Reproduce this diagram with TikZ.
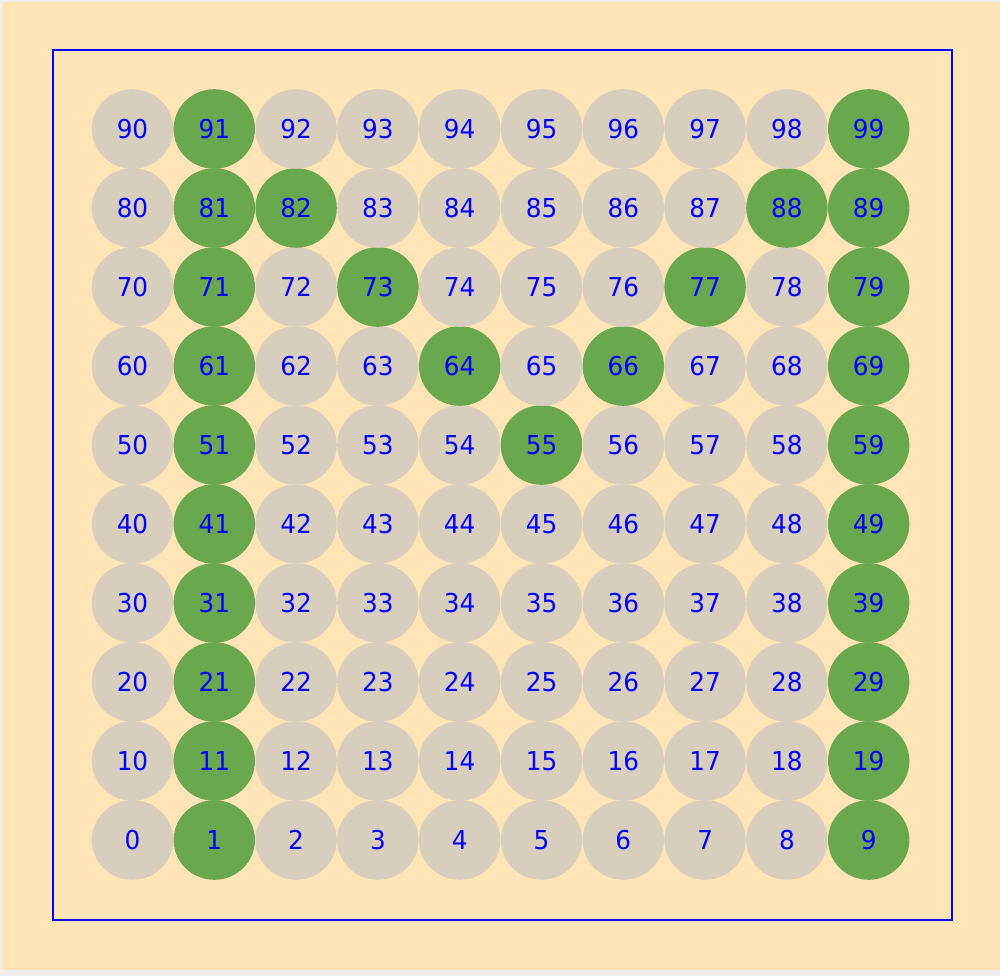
\documentclass[tikz,border=0pt]{standalone}
\usepackage{fontspec}
\newfontfamily\cellfont[FakeStretch=0.95]{DejaVu Sans}
\definecolor{frame}{HTML}{EEEEEE}
\definecolor{paper}{HTML}{FFE4B5}
\definecolor{stone}{HTML}{D8CEBE}
\definecolor{moss}{HTML}{6AA84F}

\begin{document}
\begin{tikzpicture}[
    x=1pt, y=-1pt,
    cell/.style = {ellipse, minimum width=81.4pt, minimum height=79.6pt,
                   inner sep=0pt, text=blue,
                   font=\cellfont\fontsize{26}{26}\selectfont},
    off/.style  = {fill=stone},
    on/.style   = {fill=moss},
    board/.style = {draw=blue, line width=2pt}
]
\usetikzlibrary{shapes.geometric}

% Page and board
\useasboundingbox (0, 0) rectangle (1000, 976);
\fill[frame] (0, 0) rectangle (1000, 976);
\fill[paper] (2, 2) rectangle (1000, 970);
\draw[board] (52.5, 50.5) rectangle (951.5, 919.5);

% Hundred grid, tens digit as row
\foreach \r in {0,...,9}
  \foreach \c in {0,...,9} {
    \pgfmathtruncatemacro\n{10*\r+\c}
    \pgfmathtruncatemacro\hit{(\c==1) || (\c==9) || (\r>4 && \r<9 && (\c==\r || \c==10-\r))}
    \ifnum\hit=1 \def\look{on}\else\def\look{off}\fi
    \node[cell, \look] (c\n) at ({132.5+81.8*\c}, {129+79*(9-\r)}) {\n};
  }

\end{tikzpicture}
\end{document}
